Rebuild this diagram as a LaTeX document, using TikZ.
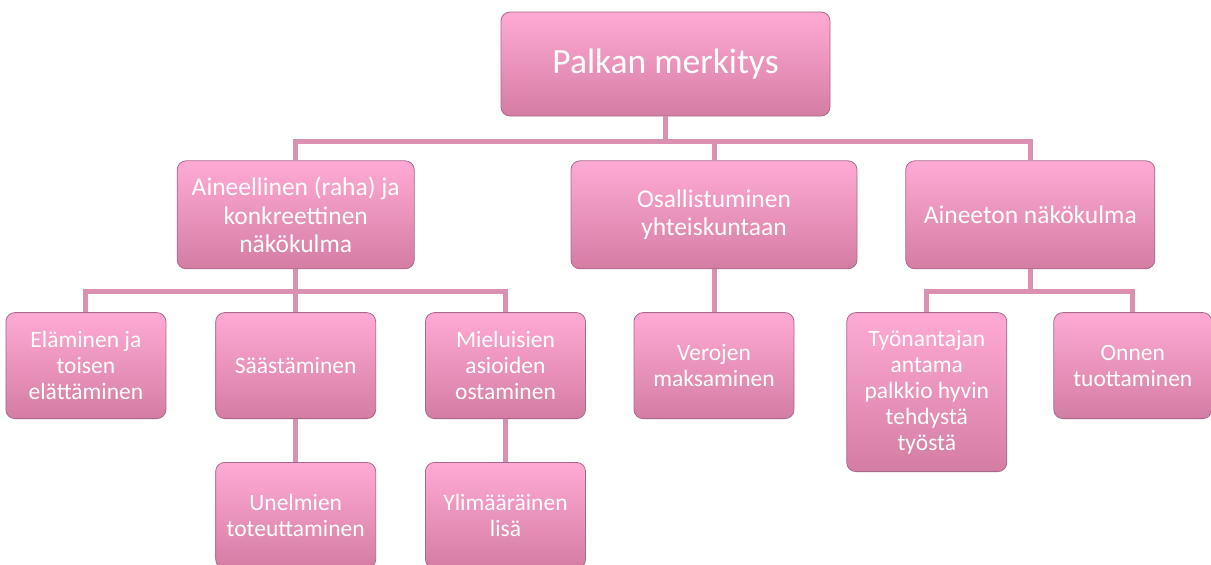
\documentclass[tikz,border=0pt]{standalone}
\usepackage{fontspec}
\setmainfont{Carlito}
\usepackage{xcolor}
\usepackage{tikz}
\usetikzlibrary{positioning}

\definecolor{boxtop}{HTML}{FFAAD5}
\definecolor{boxmid}{HTML}{EE92BD}
\definecolor{boxbot}{HTML}{D47DA3}
\definecolor{boxedge}{HTML}{A8688A}
\definecolor{linkpink}{HTML}{DB8FB1}

\begin{document}
\begin{tikzpicture}[
  every node/.style={rectangle, align=center, text=white, inner sep=2pt},
  box/.style={rounded corners=9pt, draw=boxedge, line width=0.8pt, top color=boxtop, middle color=boxmid, bottom color=boxbot},
  main/.style={box, minimum width=329pt, minimum height=104pt, font=\fontsize{35.5}{42}\selectfont},
  concept/.style={box, minimum height=108pt, font=\fontsize{25.5}{28.5}\selectfont},
  subconcept/.style={box, minimum width=160pt, minimum height=106pt, font=\fontsize{23.5}{26}\selectfont},
  link/.style={draw=linkpink, line width=5pt}
]
\useasboundingbox (0,0) rectangle (1211pt,-565pt);

% Nodes
\node[main] (palkka) at (665.5pt,-64pt) {Palkan merkitys};

\node[concept, minimum width=286pt, below=44pt of palkka, xshift=48.5pt] (osall) {Osallistuminen\\yhteiskuntaan};
\node[concept, minimum width=237pt, left=156pt of osall] (aineel) {Aineellinen (raha) ja\\konkreettinen\\näkökulma};
\node[concept, minimum width=249pt, right=48pt of osall] (aineet) {Aineeton näkökulma};

\node[subconcept, below=43pt of aineel] (saast) {Säästäminen};
\node[subconcept, left=49pt of saast] (elam) {Eläminen ja\\toisen\\elättäminen};
\node[subconcept, right=49pt of saast] (miel) {Mieluisien\\asioiden\\ostaminen};
\node[subconcept, below=43pt of osall] (verot) {Verojen\\maksaminen};
\node[subconcept, minimum height=159pt, below=43pt of aineet, xshift=-103.5pt] (palkkio) {Työnantajan\\antama\\palkkio hyvin\\tehdystä\\työstä};
\node[subconcept, minimum width=158pt, below=43pt of aineet, xshift=102.5pt] (onni) {Onnen\\tuottaminen};

\node[subconcept, below=43pt of saast] (unelma) {Unelmien\\toteuttaminen};
\node[subconcept, below=43pt of miel] (lisa) {Ylimääräinen\\lisä};

% Connectors
\draw[link] (palkka.south) -- ++(0,-25pt) coordinate (bus1);
\draw[link] (bus1) -| (aineel.north);
\draw[link] (bus1) -| (aineet.north);
\draw[link] (bus1) -| (osall.north);

\draw[link] (aineel.south) -- ++(0,-22pt) coordinate (bus2);
\draw[link] (bus2) -| (elam.north);
\draw[link] (bus2) -| (miel.north);
\draw[link] (bus2) -- (saast.north);

\draw[link] (osall.south) -- (verot.north);

\draw[link] (aineet.south) -- ++(0,-22pt) coordinate (bus3);
\draw[link] (bus3) -| (palkkio.north);
\draw[link] (bus3) -| (onni.north);

\draw[link] (saast.south) -- (unelma.north);
\draw[link] (miel.south) -- (lisa.north);

\end{tikzpicture}
\end{document}
